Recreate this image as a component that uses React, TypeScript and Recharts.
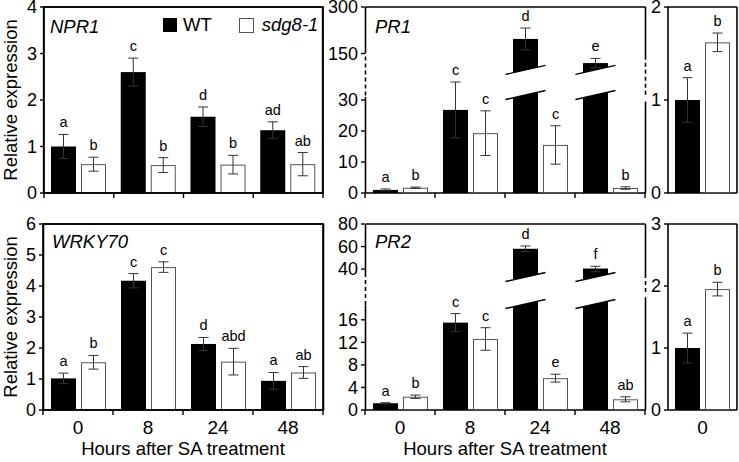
import React from 'react';
import { BarChart, Bar, XAxis, YAxis, ErrorBar, Legend } from 'recharts';

const FONT = "'Liberation Sans Narrow', 'Arial Narrow', 'Liberation Sans', Arial, sans-serif";

const hours = ['0', '8', '24', '48'];
const zeroHour = ['0'];

// NPR1
const npr1Wt = [1.0, 2.6, 1.64, 1.35];
const npr1WtErr = [0.26, 0.3, 0.21, 0.18];
const npr1Sdg = [0.62, 0.6, 0.61, 0.62];
const npr1SdgErr = [0.15, 0.16, 0.2, 0.25];
const npr1WtLetters = ['a', 'c', 'd', 'ad'];
const npr1SdgLetters = ['b', 'b', 'b', 'ab'];
const npr1Ticks = [0, 1, 2, 3, 4];

// PR1 (broken axis)
const pr1Wt = [1.0, 26.8, 197, 82];
const pr1WtErr = [0.3, 9, 35, 33];
const pr1Sdg = [1.7, 19.3, 15.5, 1.6];
const pr1SdgErr = [0.2, 7.2, 6.2, 0.4];
const pr1WtLetters = ['a', 'c', 'd', 'e'];
const pr1SdgLetters = ['b', 'c', 'c', 'b'];
const pr1Ticks = [0, 10, 20, 30, 150, 300];
const pr1AxisBreaks = [0, 40, 150, 300];
const pr1AxisSpans = [0, 40, 45, 60];

// PR1 at 0 h
const pr1ZeroWt = [1.0];
const pr1ZeroWtErr = [0.24];
const pr1ZeroSdg = [1.62];
const pr1ZeroSdgErr = [0.1];
const pr1ZeroWtLetters = ['a'];
const pr1ZeroSdgLetters = ['b'];
const pr1ZeroTicks = [0, 1, 2];

// WRKY70
const wrkyWt = [1.02, 4.17, 2.13, 0.94];
const wrkyWtErr = [0.17, 0.23, 0.21, 0.27];
const wrkySdg = [1.54, 4.61, 1.56, 1.21];
const wrkySdgErr = [0.22, 0.17, 0.43, 0.19];
const wrkyWtLetters = ['a', 'c', 'd', 'a'];
const wrkySdgLetters = ['b', 'c', 'abd', 'ab'];
const wrkyTicks = [0, 1, 2, 3, 4, 5, 6];

// PR2 (broken axis)
const pr2Wt = [1.2, 15.5, 58, 40.5];
const pr2WtErr = [0.1, 1.6, 2.5, 2];
const pr2Sdg = [2.35, 12.6, 5.65, 1.9];
const pr2SdgErr = [0.3, 2.0, 0.7, 0.45];
const pr2WtLetters = ['a', 'c', 'd', 'f'];
const pr2SdgLetters = ['b', 'c', 'e', 'ab'];
const pr2Ticks = [0, 4, 8, 12, 16, 40, 60, 80];
const pr2AxisBreaks = [0, 18, 40, 80];
const pr2AxisSpans = [0, 18, 25, 33];

// PR2 at 0 h
const pr2ZeroWt = [1.0];
const pr2ZeroWtErr = [0.24];
const pr2ZeroSdg = [1.95];
const pr2ZeroSdgErr = [0.11];
const pr2ZeroWtLetters = ['a'];
const pr2ZeroSdgLetters = ['b'];
const pr2ZeroTicks = [0, 1, 2, 3];

type Fn = (v: number) => number;
const identity: Fn = (v) => v;

const piecewise = (src: number[], dst: number[]): Fn => (v) => {
  let i = 1;
  while (i < src.length - 1 && v > src[i]) i++;
  return dst[i - 1] + ((v - src[i - 1]) / (src[i] - src[i - 1])) * (dst[i] - dst[i - 1]);
};

const pr1Map = piecewise(pr1AxisBreaks, pr1AxisSpans);
const pr2Map = piecewise(pr2AxisBreaks, pr2AxisSpans);

function buildRows(
  cats: string[], wt: number[], wtErr: number[], sdg: number[], sdgErr: number[],
  wtL: string[], sdgL: string[], f: Fn,
) {
  return cats.map((cat, i) => ({
    cat,
    wt: f(wt[i]),
    wtE: [f(wt[i]) - f(wt[i] - wtErr[i]), f(wt[i] + wtErr[i]) - f(wt[i])],
    wtL: wtL[i],
    sdg: f(sdg[i]),
    sdgE: [f(sdg[i]) - f(sdg[i] - sdgErr[i]), f(sdg[i] + sdgErr[i]) - f(sdg[i])],
    sdgL: sdgL[i],
  }));
}

// dash pattern for a vertical frame side drawn top -> bottom: solid, dashed over the break, solid
function sideDash(yTop: number, plotH: number, dash?: number[]) {
  if (!dash) return undefined;
  const k = plotH / yTop;
  const topLen = (yTop - dash[1]) * k;
  const midLen = (dash[1] - dash[0]) * k;
  const bottomLen = dash[0] * k;
  const parts = [topLen];
  let used = 0;
  while (used + 7 <= midLen) {
    parts.push(3, 4);
    used += 7;
  }
  parts.push(midLen - used, bottomLen + 20, 0);
  return parts.map((v) => v.toFixed(2)).join(' ');
}

type FrameInfo = { first: string; band: number; n: number; yTop: number; leftDash?: string; rightDash?: string };

const BAR = 25;
const GAP = 5;
const FRAME = { stroke: '#000', strokeWidth: 1.6, fill: 'none' };

const makeShape = (kind: 'wt' | 'sdg', fr: FrameInfo, brk?: number[]) => (p: any) => {
  const { x, y, width: w, height: h, payload } = p;
  const v = payload[kind];
  const k = h / v;
  const bottom = y + h;
  const errTop = y - payload[kind + 'E'][1] * k;
  const cx = x + w / 2;
  const s = 0.225;
  const at = (yc: number, xx: number) => yc - (xx - cx) * s;
  let gap = null;
  if (brk && v > brk[1]) {
    const yLo = bottom - brk[0] * k;
    const yHi = bottom - brk[1] * k;
    const x0 = x - 0.5;
    const x1 = x + w + 0.5;
    gap = (
      <g>
        <polygon
          points={`${x0},${at(yLo, x0)} ${x1},${at(yLo, x1)} ${x1},${at(yHi, x1)} ${x0},${at(yHi, x0)}`}
          fill="#fff"
        />
        <line x1={cx - 20} y1={at(yLo, cx - 20)} x2={cx + 20} y2={at(yLo, cx + 20)} stroke="#000" strokeWidth={1.4} />
        <line x1={cx - 20} y1={at(yHi, cx - 20)} x2={cx + 20} y2={at(yHi, cx + 20)} stroke="#000" strokeWidth={1.4} />
      </g>
    );
  }
  // panel frame, drawn once from the first WT bar (plot top follows from the bar's own scale)
  let box = null;
  if (kind === 'wt' && payload.cat === fr.first) {
    const yt = bottom - fr.yTop * k;
    const xl = x + (BAR * 2 + GAP) / 2 - fr.band / 2;
    const xr = xl + fr.band * fr.n;
    box = (
      <g>
        <path d={`M${xl},${bottom}H${xr}M${xl},${yt}H${xr}`} {...FRAME} />
        <path d={`M${xl},${yt}V${bottom}`} {...FRAME} strokeDasharray={fr.leftDash} />
        <path d={`M${xr},${yt}V${bottom}`} {...FRAME} strokeDasharray={fr.rightDash} />
      </g>
    );
  }
  return (
    <g>
      {box}
      {kind === 'wt' ? (
        <rect x={x} y={y} width={w} height={h} fill="#000" />
      ) : (
        <rect x={x + 0.5} y={y + 0.5} width={w - 1} height={h - 1} fill="#fff" stroke="#555" strokeWidth={1} />
      )}
      {gap}
      <text x={cx} y={errTop - 7} textAnchor="middle" fill="#000" fontSize={14.5} fontFamily={FONT}>
        {payload[kind + 'L']}
      </text>
    </g>
  );
};

// bottom axis tick: boundary tick marks and time label
const BandTick = (p: any) => {
  const { x, y, payload, band, last, bounds, labels } = p;
  const y0 = y - 5;
  const half = band / 2;
  return (
    <g>
      {bounds && <line x1={x - half} x2={x - half} y1={y0} y2={y0 + 5} stroke="#000" strokeWidth={1.4} />}
      {bounds && payload.value === last && (
        <line x1={x + half} x2={x + half} y1={y0} y2={y0 + 5} stroke="#000" strokeWidth={1.4} />
      )}
      {labels && (
        <text x={x} y={y0 + 24} textAnchor="middle" fill="#000" fontSize={19} fontFamily={FONT}>
          {payload.value}
        </text>
      )}
    </g>
  );
};

const LegendBox = () => (
  <div style={{ display: 'flex', alignItems: 'center', fontFamily: FONT, fontSize: 18.5, color: '#000', lineHeight: '16px' }}>
    <span style={{ width: 14, height: 14, background: '#000', display: 'inline-block', marginRight: 6 }} />
    <span>WT</span>
    <span style={{ width: 15, height: 15, border: '1px solid #555', boxSizing: 'border-box', display: 'inline-block', marginLeft: 27, marginRight: 8 }} />
    <span style={{ fontStyle: 'italic' }}>sdg8-1</span>
  </div>
);

type Layout = { left: number; top: number; width: number; height: number; yWidth: number; padTop: number; axisH: number };

type PanelProps = Layout & {
  rows: any[]; yTicks: number[]; f: Fn;
  bounds: boolean; labels: boolean; xTitle?: boolean;
  brk?: number[]; dashL?: number[]; dashR?: number[];
  legend?: boolean;
};

function Panel(props: PanelProps) {
  const { left, top, width, height, yWidth, padTop, rows, yTicks, f, bounds, labels, xTitle, axisH, brk, dashL, dashR, legend } = props;
  const n = rows.length;
  const ticksD = yTicks.map(f);
  const yTop = ticksD[ticksD.length - 1];
  const last = rows[n - 1].cat;
  const band = (width - yWidth - 2) / n;
  const plotH = height - padTop - axisH;
  const fr: FrameInfo = {
    first: rows[0].cat, band, n, yTop,
    leftDash: sideDash(yTop, plotH, dashL),
    rightDash: sideDash(yTop, plotH, dashR),
  };

  return (
    <div style={{ position: 'absolute', left, top, width, height }}>
      <BarChart
        width={width}
        height={height}
        data={rows}
        margin={{ top: padTop, right: 2, left: 0, bottom: 0 }}
        barSize={BAR}
        barGap={GAP}
      >
        <XAxis
          xAxisId="c"
          dataKey="cat"
          type="category"
          height={axisH}
          axisLine={false}
          tickLine={false}
          tickSize={5}
          tickMargin={0}
          interval={0}
          tick={(p: any) => <BandTick {...p} band={band} last={last} bounds={bounds} labels={labels} />}
          label={
            xTitle
              ? { value: 'Hours after SA treatment', position: 'insideBottom', offset: 7, fill: '#000', fontSize: 18.5, fontFamily: FONT }
              : undefined
          }
        />
        <YAxis
          yAxisId="y"
          width={yWidth}
          domain={[0, yTop]}
          ticks={ticksD}
          interval={0}
          axisLine={false}
          tickSize={4}
          tickMargin={3}
          tickLine={{ stroke: '#000', strokeWidth: 1.4 }}
          tick={{ fill: '#000', fontSize: 18, fontFamily: FONT }}
          tickFormatter={(v: number) => {
            const i = ticksD.findIndex((t) => Math.abs(t - v) < 1e-6);
            return i >= 0 ? String(yTicks[i]) : '';
          }}
        />
        {legend && (
          <Legend
            layout="vertical"
            align="center"
            verticalAlign="middle"
            content={<LegendBox />}
            wrapperStyle={{ left: 163, top: 17 - top, width: 170, height: 16 }}
          />
        )}
        <Bar xAxisId="c" yAxisId="y" dataKey="wt" name="WT" fill="#000" shape={makeShape('wt', fr, brk)} isAnimationActive={false}>
          <ErrorBar dataKey="wtE" direction="y" width={5} stroke="#333" strokeWidth={1} isAnimationActive={false} />
        </Bar>
        <Bar xAxisId="c" yAxisId="y" dataKey="sdg" name="sdg8-1" fill="#fff" shape={makeShape('sdg', fr, brk)} isAnimationActive={false}>
          <ErrorBar dataKey="sdgE" direction="y" width={5} stroke="#333" strokeWidth={1} isAnimationActive={false} />
        </Bar>
      </BarChart>
    </div>
  );
}

const npr1Rows = buildRows(hours, npr1Wt, npr1WtErr, npr1Sdg, npr1SdgErr, npr1WtLetters, npr1SdgLetters, identity);
const pr1Rows = buildRows(hours, pr1Wt, pr1WtErr, pr1Sdg, pr1SdgErr, pr1WtLetters, pr1SdgLetters, pr1Map);
const pr1ZeroRows = buildRows(zeroHour, pr1ZeroWt, pr1ZeroWtErr, pr1ZeroSdg, pr1ZeroSdgErr, pr1ZeroWtLetters, pr1ZeroSdgLetters, identity);
const wrkyRows = buildRows(hours, wrkyWt, wrkyWtErr, wrkySdg, wrkySdgErr, wrkyWtLetters, wrkySdgLetters, identity);
const pr2Rows = buildRows(hours, pr2Wt, pr2WtErr, pr2Sdg, pr2SdgErr, pr2WtLetters, pr2SdgLetters, pr2Map);
const pr2ZeroRows = buildRows(zeroHour, pr2ZeroWt, pr2ZeroWtErr, pr2ZeroSdg, pr2ZeroSdgErr, pr2ZeroWtLetters, pr2ZeroSdgLetters, identity);

// panel placement on the page
const layoutA: Layout = { left: 0, top: -6, width: 325, height: 216, yWidth: 44, padTop: 13, axisH: 17 };
const layoutB: Layout = { left: 325, top: -6, width: 322, height: 216, yWidth: 40, padTop: 13, axisH: 17 };
const layoutC: Layout = { left: 647, top: -6, width: 92, height: 216, yWidth: 21, padTop: 13, axisH: 17 };
const layoutD: Layout = { left: 0, top: 207, width: 325, height: 255, yWidth: 43, padTop: 17, axisH: 52 };
const layoutE: Layout = { left: 325, top: 207, width: 322, height: 255, yWidth: 40, padTop: 17, axisH: 52 };
const layoutF: Layout = { left: 647, top: 207, width: 92, height: 255, yWidth: 21, padTop: 17, axisH: 52 };

// plain frame box for a panel, from its layout
const frameBox = (l: Layout) => (
  <rect
    x={l.left + l.yWidth}
    y={l.top + l.padTop}
    width={l.width - l.yWidth - 2}
    height={l.height - l.padTop - l.axisH}
    {...FRAME}
  />
);

const titleStyle = { fontFamily: FONT, fontSize: 18.5, fontStyle: 'italic' as const, fill: '#000' };
const yTitleStyle = { fontFamily: FONT, fontSize: 18.5, fill: '#000', textAnchor: 'middle' as const };

export default function App() {
  return (
    <div style={{ position: 'absolute', left: 0, top: 0, width: 739, height: 462, background: '#fff', overflow: 'hidden' }}>
      <Panel {...layoutA} rows={npr1Rows} yTicks={npr1Ticks} f={identity} bounds labels={false} legend />
      <Panel
        {...layoutB} rows={pr1Rows} yTicks={pr1Ticks} f={pr1Map} bounds labels={false}
        brk={[31.6, 39.7]} dashL={[31, 45]} dashR={[29.5, 43]}
      />
      <Panel {...layoutC} rows={pr1ZeroRows} yTicks={pr1ZeroTicks} f={identity} bounds={false} labels={false} />
      <Panel {...layoutD} rows={wrkyRows} yTicks={wrkyTicks} f={identity} bounds labels xTitle />
      <Panel
        {...layoutE} rows={pr2Rows} yTicks={pr2Ticks} f={pr2Map} bounds labels xTitle
        brk={[18.8, 23.6]} dashL={[18.6, 23.6]} dashR={[20, 23.4]}
      />
      <Panel {...layoutF} rows={pr2ZeroRows} yTicks={pr2ZeroTicks} f={identity} bounds={false} labels />
      <svg width={739} height={462} style={{ position: 'absolute', left: 0, top: 0, pointerEvents: 'none' }}>
        {frameBox(layoutA)}
        {frameBox(layoutD)}
        <text x={50} y={33} {...titleStyle}>NPR1</text>
        <text x={375} y={33} {...titleStyle}>PR1</text>
        <text x={52} y={248} {...titleStyle}>WRKY70</text>
        <text x={375} y={248} {...titleStyle}>PR2</text>
        <text x={11} y={100} dy="0.35em" transform="rotate(-90, 11, 100)" {...yTitleStyle}>Relative expression</text>
        <text x={11} y={317} dy="0.35em" transform="rotate(-90, 11, 317)" {...yTitleStyle}>Relative expression</text>
      </svg>
    </div>
  );
}
